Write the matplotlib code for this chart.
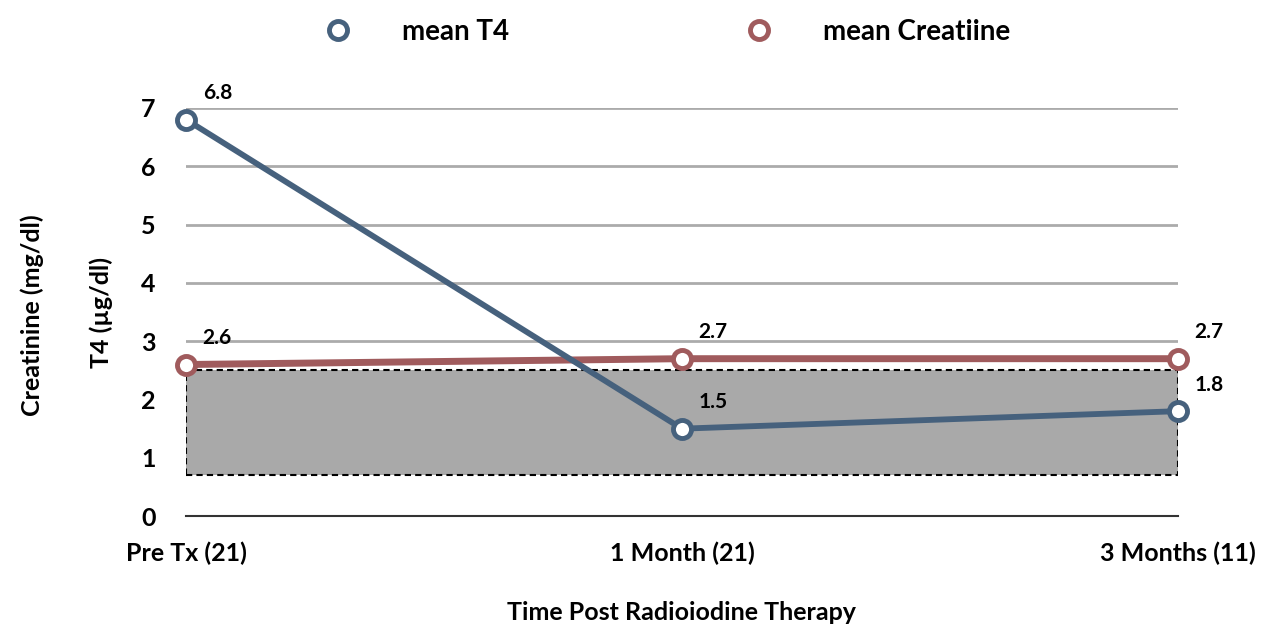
import matplotlib.pyplot as plt
from matplotlib.lines import Line2D
from matplotlib.patches import Rectangle

categories = ["Pre Tx (21)", "1 Month (21)", "3 Months (11)"]
t4 = [6.8, 1.5, 1.8]
creatinine = [2.6, 2.7, 2.7]
normal_range = (0.7, 2.5)

plt.rcParams['font.family'] = ['Lato', 'DejaVu Sans']
plt.rcParams['font.weight'] = 'bold'
plt.rcParams['axes.labelweight'] = 'bold'

T4_COLOR = '#46617d'
CR_COLOR = '#a05b5d'

fig = plt.figure(figsize=(12.83, 6.31), dpi=100)
ax = fig.add_axes([0.145, 0.182, 0.773, 0.647])

x = list(range(len(categories)))

# shaded range box
ax.add_patch(Rectangle((x[0], normal_range[0]), x[-1] - x[0],
                       normal_range[1] - normal_range[0],
                       facecolor='#a9a9a9', edgecolor='black',
                       linestyle=(0, (3, 2)), linewidth=1.5, zorder=1))

ax.plot(x, t4, color=T4_COLOR, linewidth=4.2, marker='o', markersize=13,
        markerfacecolor='white', markeredgewidth=3.5, zorder=4, clip_on=False)
ax.plot(x, creatinine, color=CR_COLOR, linewidth=5, marker='o', markersize=13,
        markerfacecolor='white', markeredgewidth=3.5, zorder=3, clip_on=False)

for xi, v in zip(x, t4):
    ax.annotate(f"{v:.1f}", (xi, v), xytext=(12, 12), textcoords='offset points',
                fontsize=15, va='bottom', ha='left')
for xi, v in zip(x, creatinine):
    ax.annotate(f"{v:.1f}", (xi, v), xytext=(12, 12), textcoords='offset points',
                fontsize=15, va='bottom', ha='left')

ax.set_xlim(0, 2)
ax.set_ylim(0, 7)
ax.set_yticks(range(0, 8))
ax.set_xticks(x)
ax.set_xticklabels(categories)
ax.tick_params(axis='both', labelsize=18, length=0)
ax.tick_params(axis='y', pad=22)
ax.tick_params(axis='x', pad=18)
ax.grid(axis='y', color='#ababab', linewidth=2)
ax.set_axisbelow(True)
for s in ['top', 'right', 'left']:
    ax.spines[s].set_visible(False)
ax.spines['bottom'].set_color('#333333')
ax.spines['bottom'].set_linewidth(1.5)

ax.set_xlabel("Time Post Radioiodine Therapy", fontsize=18, labelpad=26)
ax.set_ylabel("T4 (µg/dl)", fontsize=18, labelpad=20)
fig.text(0.025, 0.5, "Creatinine (mg/dl)", rotation=90, fontsize=18,
         va='center', ha='center')

handles = [
    Line2D([], [], linestyle='none', marker='o', markersize=13,
           markerfacecolor='white', markeredgecolor=T4_COLOR,
           markeredgewidth=3.5, label='mean T4'),
    Line2D([], [], linestyle='none', marker='o', markersize=13,
           markerfacecolor='white', markeredgecolor=CR_COLOR,
           markeredgewidth=3.5, label='mean Creatiine'),
]
fig.legend(handles=handles, loc='upper center', bbox_to_anchor=(0.52, 1.01),
           ncol=2, frameon=False, columnspacing=8.5, handlelength=1.0,
           handletextpad=1.8, prop={'weight': 'bold', 'size': 20})

fig.savefig('out.png', dpi=100)
